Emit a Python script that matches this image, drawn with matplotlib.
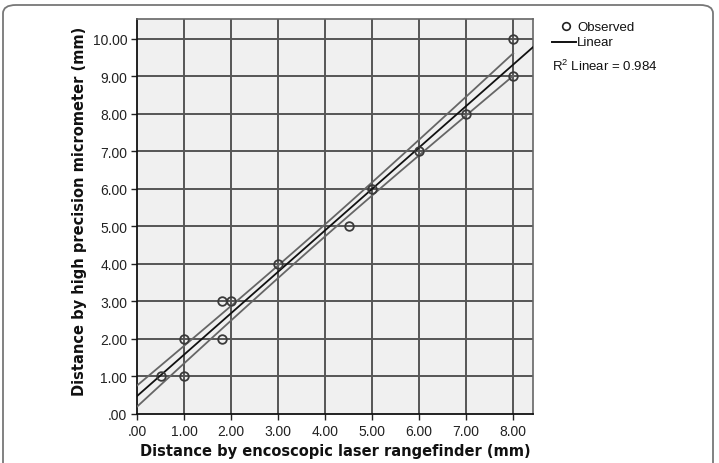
import numpy as np
import matplotlib
matplotlib.use("Agg")
import matplotlib.pyplot as plt
from matplotlib.lines import Line2D
from matplotlib.patches import FancyBboxPatch

# Data
laser_mm = [0.5, 1.0, 1.0, 1.8, 1.8, 2.0, 3.0, 4.5, 5.0, 6.0, 7.0, 8.0, 8.0]
micrometer_mm = [1.0, 1.0, 2.0, 2.0, 3.0, 3.0, 4.0, 5.0, 6.0, 7.0, 8.0, 9.0, 10.0]
x_ticks = [0, 1, 2, 3, 4, 5, 6, 7, 8]
x_ticklabels = [".00", "1.00", "2.00", "3.00", "4.00", "5.00", "6.00", "7.00", "8.00"]
y_ticks = [0, 1, 2, 3, 4, 5, 6, 7, 8, 9, 10]
y_ticklabels = [".00", "1.00", "2.00", "3.00", "4.00", "5.00", "6.00", "7.00", "8.00", "9.00", "10.00"]
r2_label = "0.984"
t_band = 1.36  # band multiplier

W, H = 719, 464
fig = plt.figure(figsize=(W / 100, H / 100), dpi=100)

# rounded frame (bottom edge lies below the image)
frame = FancyBboxPatch((3 / W, -300 / H), 710 / W, (H - 6 + 300) / H,
                       boxstyle="round,pad=0,rounding_size=0.018",
                       transform=fig.transFigure, facecolor="none",
                       edgecolor="#777777", lw=1.3)
fig.patches.append(frame)

L, R, T, B = 137, 533, 20, 415
ax = fig.add_axes([L / W, (H - B) / H, (R - L) / W, (B - T) / H])
ax.set_facecolor("#f0f0f0")
ax.set_xlim(0, 8.42)
ax.set_ylim(0, 10.53)

for v in x_ticks[1:]:
    ax.axvline(v, color="#555555", lw=1.4, zorder=1)
for v in y_ticks[1:]:
    ax.axhline(v, color="#555555", lw=1.4, zorder=1)

x = np.array(laser_mm)
y = np.array(micrometer_mm)
n = len(x)
mx, my = x.mean(), y.mean()
sxx = ((x - mx) ** 2).sum()
b = ((x - mx) * (y - my)).sum() / sxx
a = my - b * mx
res = y - (a + b * x)
s = np.sqrt((res ** 2).sum() / (n - 2))

xf = np.linspace(0, 8.42, 100)
ax.plot(xf, a + b * xf, color="#111111", lw=1.3, zorder=3)
xc = np.linspace(0, x.max(), 100)
hw = t_band * s * np.sqrt(1 / n + (xc - mx) ** 2 / sxx)
ax.plot(xc, a + b * xc + hw, color="#666666", lw=1.3, zorder=3)
ax.plot(xc, a + b * xc - hw, color="#666666", lw=1.3, zorder=3)

ax.plot(x, y, linestyle="none", marker="o", markersize=6.2,
        markerfacecolor="none", markeredgecolor="#3a3a3a", markeredgewidth=1.3, zorder=4)

for side in ["top", "right"]:
    ax.spines[side].set_color("#666666")
    ax.spines[side].set_linewidth(1.2)
for side in ["left", "bottom"]:
    ax.spines[side].set_color("#111111")
    ax.spines[side].set_linewidth(1.3)

tick_font = dict(family=["Liberation Sans", "DejaVu Sans"], size=10)
ax.set_xticks(x_ticks)
ax.set_xticklabels(x_ticklabels, **tick_font)
ax.set_yticks(y_ticks)
ax.set_yticklabels(y_ticklabels, **tick_font)
ax.tick_params(direction="out", length=4, width=1, color="#222222", pad=3,
               labelcolor="#222222")

lab_font = dict(family="DejaVu Sans", weight="bold", size=10.5, color="#111111")
fig.text(335 / W, 1 - 452 / H, "Distance by encoscopic laser rangefinder (mm)",
         ha="center", va="center", **lab_font)
fig.text(80 / W, 1 - 211 / H, "Distance by high precision micrometer (mm)",
         ha="center", va="center", rotation=90, **lab_font)

# legend
leg_font = dict(family=["Liberation Sans", "DejaVu Sans"], size=9.5, color="#111111")
fig.add_artist(Line2D([566 / W], [1 - 27 / H], marker="o", markersize=5.5,
                      markerfacecolor="none", markeredgecolor="#222222",
                      markeredgewidth=1.2, transform=fig.transFigure))
fig.add_artist(Line2D([552 / W, 576 / W], [1 - 43 / H, 1 - 43 / H],
                      color="#111111", lw=1.4, transform=fig.transFigure))
fig.text(577 / W, 1 - 28 / H, "Observed", ha="left", va="center", **leg_font)
fig.text(577 / W, 1 - 43 / H, "Linear", ha="left", va="center", **leg_font)
fig.text(552 / W, 1 - 66 / H, r"R$^{\mathregular{2}}$ Linear = " + r2_label,
         ha="left", va="center", **leg_font)

fig.savefig("out.png", dpi=100)
